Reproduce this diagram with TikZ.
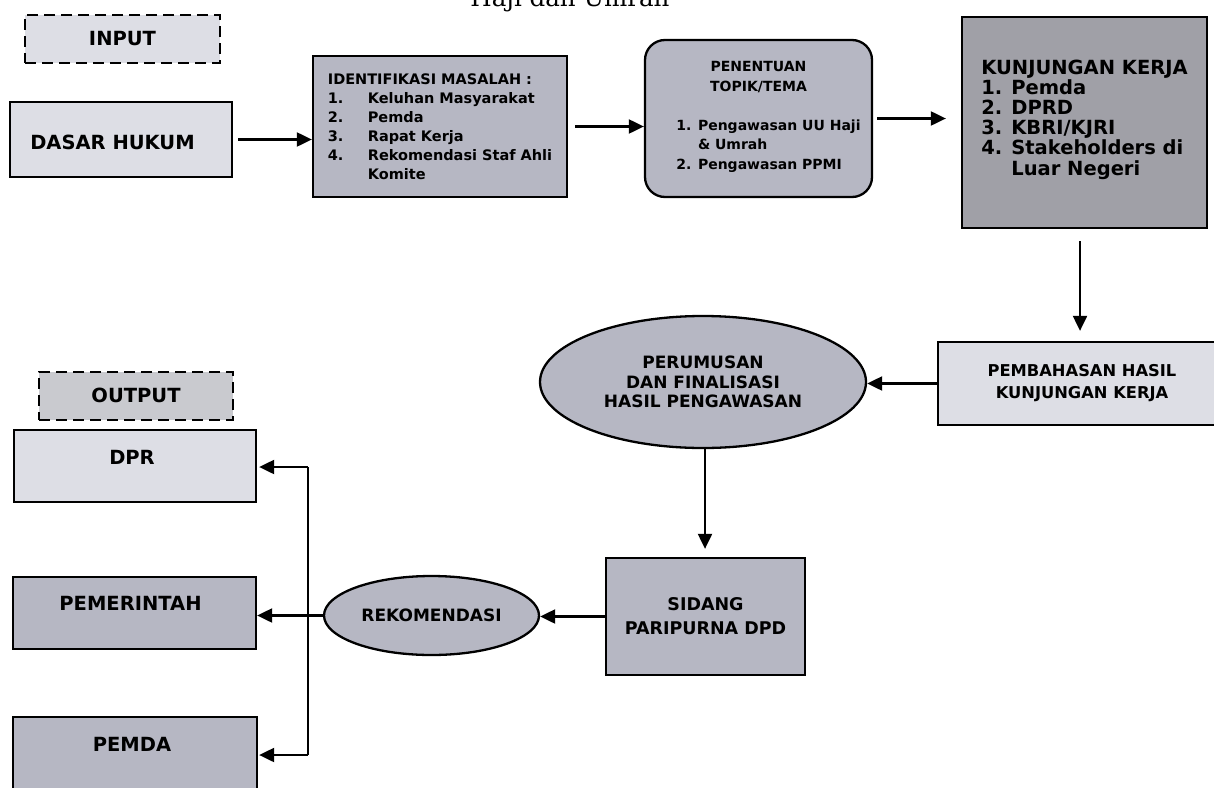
\documentclass[tikz,border=0pt]{standalone}
\usepackage{fontspec}
\setmainfont{DejaVu Sans}
\newfontfamily\headserif{DejaVu Serif}
\usetikzlibrary{arrows.meta,shapes.geometric,calc}

\definecolor{fillLight}{RGB}{221,222,229}
\definecolor{fillOut}{RGB}{201,202,207}
\definecolor{fillMid}{RGB}{182,183,195}
\definecolor{fillDark}{RGB}{160,160,167}

\newcommand\txtsize[2]{\fontsize{#1}{#2}\selectfont\bfseries}

\begin{document}
\begin{tikzpicture}[x=1pt,y=-1pt,
  box/.style={draw=black, line width=2.3pt, rectangle, inner sep=0pt},
  oval/.style={draw=black, line width=2.3pt, ellipse, inner sep=0pt},
  dashbox/.style={draw=black, line width=2.7pt, dash pattern=on 11pt off 6pt, rectangle, inner sep=0pt},
  lbl/.style={inner sep=0pt, font=\txtsize{19.5}{22}},
  wire/.style={line width=2.1pt},
  flow/.style={line width=2.1pt, -{Triangle[length=15pt,width=14pt]}},
]
\useasboundingbox (0,0) rectangle (1214,787);
\fill[white] (0,0) rectangle (1214,787);

% heading, cut by the page edge
\node[inner sep=0pt, anchor=base, font=\headserif\fontsize{24.5}{28}\selectfont] (title) at (570,6) {Haji dan Umrah};

% ---- input side ----
\node[dashbox, fill=fillLight, minimum width=195, minimum height=48, font=\txtsize{19.5}{22}] (input) at (122.5,39) {INPUT};

\node[box, fill=fillLight, minimum width=222, minimum height=75] (dasar) at (121,139.5) {};
\node[lbl] (dasarT) at (112.5,142.5) {DASAR HUKUM};

\node[box, fill=fillMid, minimum width=254, minimum height=141, align=left, font=\txtsize{14.5}{19}] (ident) at (440,126.5)
  {IDENTIFIKASI MASALAH :\\
   \makebox[40pt][l]{1.}Keluhan Masyarakat\\
   \makebox[40pt][l]{2.}Pemda\\
   \makebox[40pt][l]{3.}Rapat Kerja\\
   \makebox[40pt][l]{4.}Rekomendasi Staf Ahli\\
   \hspace*{40pt}Komite};

\node[box, fill=fillMid, rounded corners=20pt, minimum width=227, minimum height=157, align=center, font=\txtsize{14}{19.5}] (pen) at (758.5,118.5)
  {PENENTUAN\\TOPIK/TEMA\\[19.5pt]
   \hspace*{20pt}\begin{tabular}[t]{@{}l@{}}1. Pengawasan UU Haji\\\hphantom{1. }\& Umrah\\2. Pengawasan PPMI\end{tabular}};

\node[box, fill=fillDark, minimum width=245, minimum height=211, align=left, font=\txtsize{19.5}{20.2}] (kunj) at (1084.5,122.5)
  {KUNJUNGAN KERJA\\
   1. Pemda\\
   2. DPRD\\
   3. KBRI/KJRI\\
   4. Stakeholders di\\
   \hphantom{4. }Luar Negeri\\[-10pt]};

\node[box, fill=fillLight, minimum width=288, minimum height=83, align=center, font=\txtsize{16.3}{22}] (pemb) at (1082,383.5)
  {PEMBAHASAN HASIL\\KUNJUNGAN KERJA};

\node[oval, fill=fillMid, minimum width=326, minimum height=132, align=center, font=\txtsize{17}{19.5}] (perum) at (703,382)
  {PERUMUSAN\\DAN FINALISASI\\HASIL PENGAWASAN};

\node[box, fill=fillMid, minimum width=199, minimum height=117, align=center, font=\txtsize{17.5}{24}] (sidang) at (705.5,616.5)
  {SIDANG\\PARIPURNA DPD};

\node[oval, fill=fillMid, minimum width=215, minimum height=79, font=\txtsize{17}{20}] (rekom) at (431.5,615.5) {REKOMENDASI};

% ---- output side ----
\node[dashbox, fill=fillOut, minimum width=194, minimum height=48] (output) at (136,396) {};
\node[lbl] (outputT) at (136,395) {OUTPUT};

\node[box, fill=fillLight, minimum width=242, minimum height=72] (dpr) at (135,466) {};
\node[lbl] (dprT) at (132,457) {DPR};

\node[box, fill=fillMid, minimum width=243, minimum height=72] (pemer) at (134.5,613) {};
\node[lbl] (pemerT) at (130.5,603) {PEMERINTAH};

\node[box, fill=fillMid, minimum width=244, minimum height=83] (pemda) at (135,758.5) {};
\node[lbl] (pemdaT) at (132,744) {PEMDA};

% ---- connectors ----
\draw[flow] ([xshift=5pt]dasar.east) -- (ident.west |- dasar.east);
\draw[flow] ([xshift=7pt]ident.east) -- (pen.west |- ident.east);
\draw[flow] ([xshift=4pt]pen.east) -- ($(kunj.west |- pen.east)+(-15,0)$);
\draw[flow] ($(kunj.south)+(-4.5,12)$) -- ($(pemb.north)+(-2,-10)$);
\draw[flow] (pemb.west) -- (perum.east |- pemb.west);
\draw[flow] ($(perum.south)+(2,0)$) -- ($(sidang.north)+(-0.5,-8)$);
\draw[flow] (sidang.west) -- (rekom.east |- sidang.west);

\coordinate (jTop) at (308,467);
\coordinate (jMid) at (308,615.5);
\coordinate (jBot) at (308,755);
\draw[wire] (rekom.west) -- (jMid);
\draw[wire] (jTop) -- (jBot);
\draw[flow] (jTop) -- ($(dpr.east |- jTop)+(2,0)$);
\draw[flow] (jMid) -- (pemer.east |- jMid);
\draw[flow] (jBot) -- ($(pemda.east |- jBot)+(1,0)$);
\end{tikzpicture}
\end{document}
